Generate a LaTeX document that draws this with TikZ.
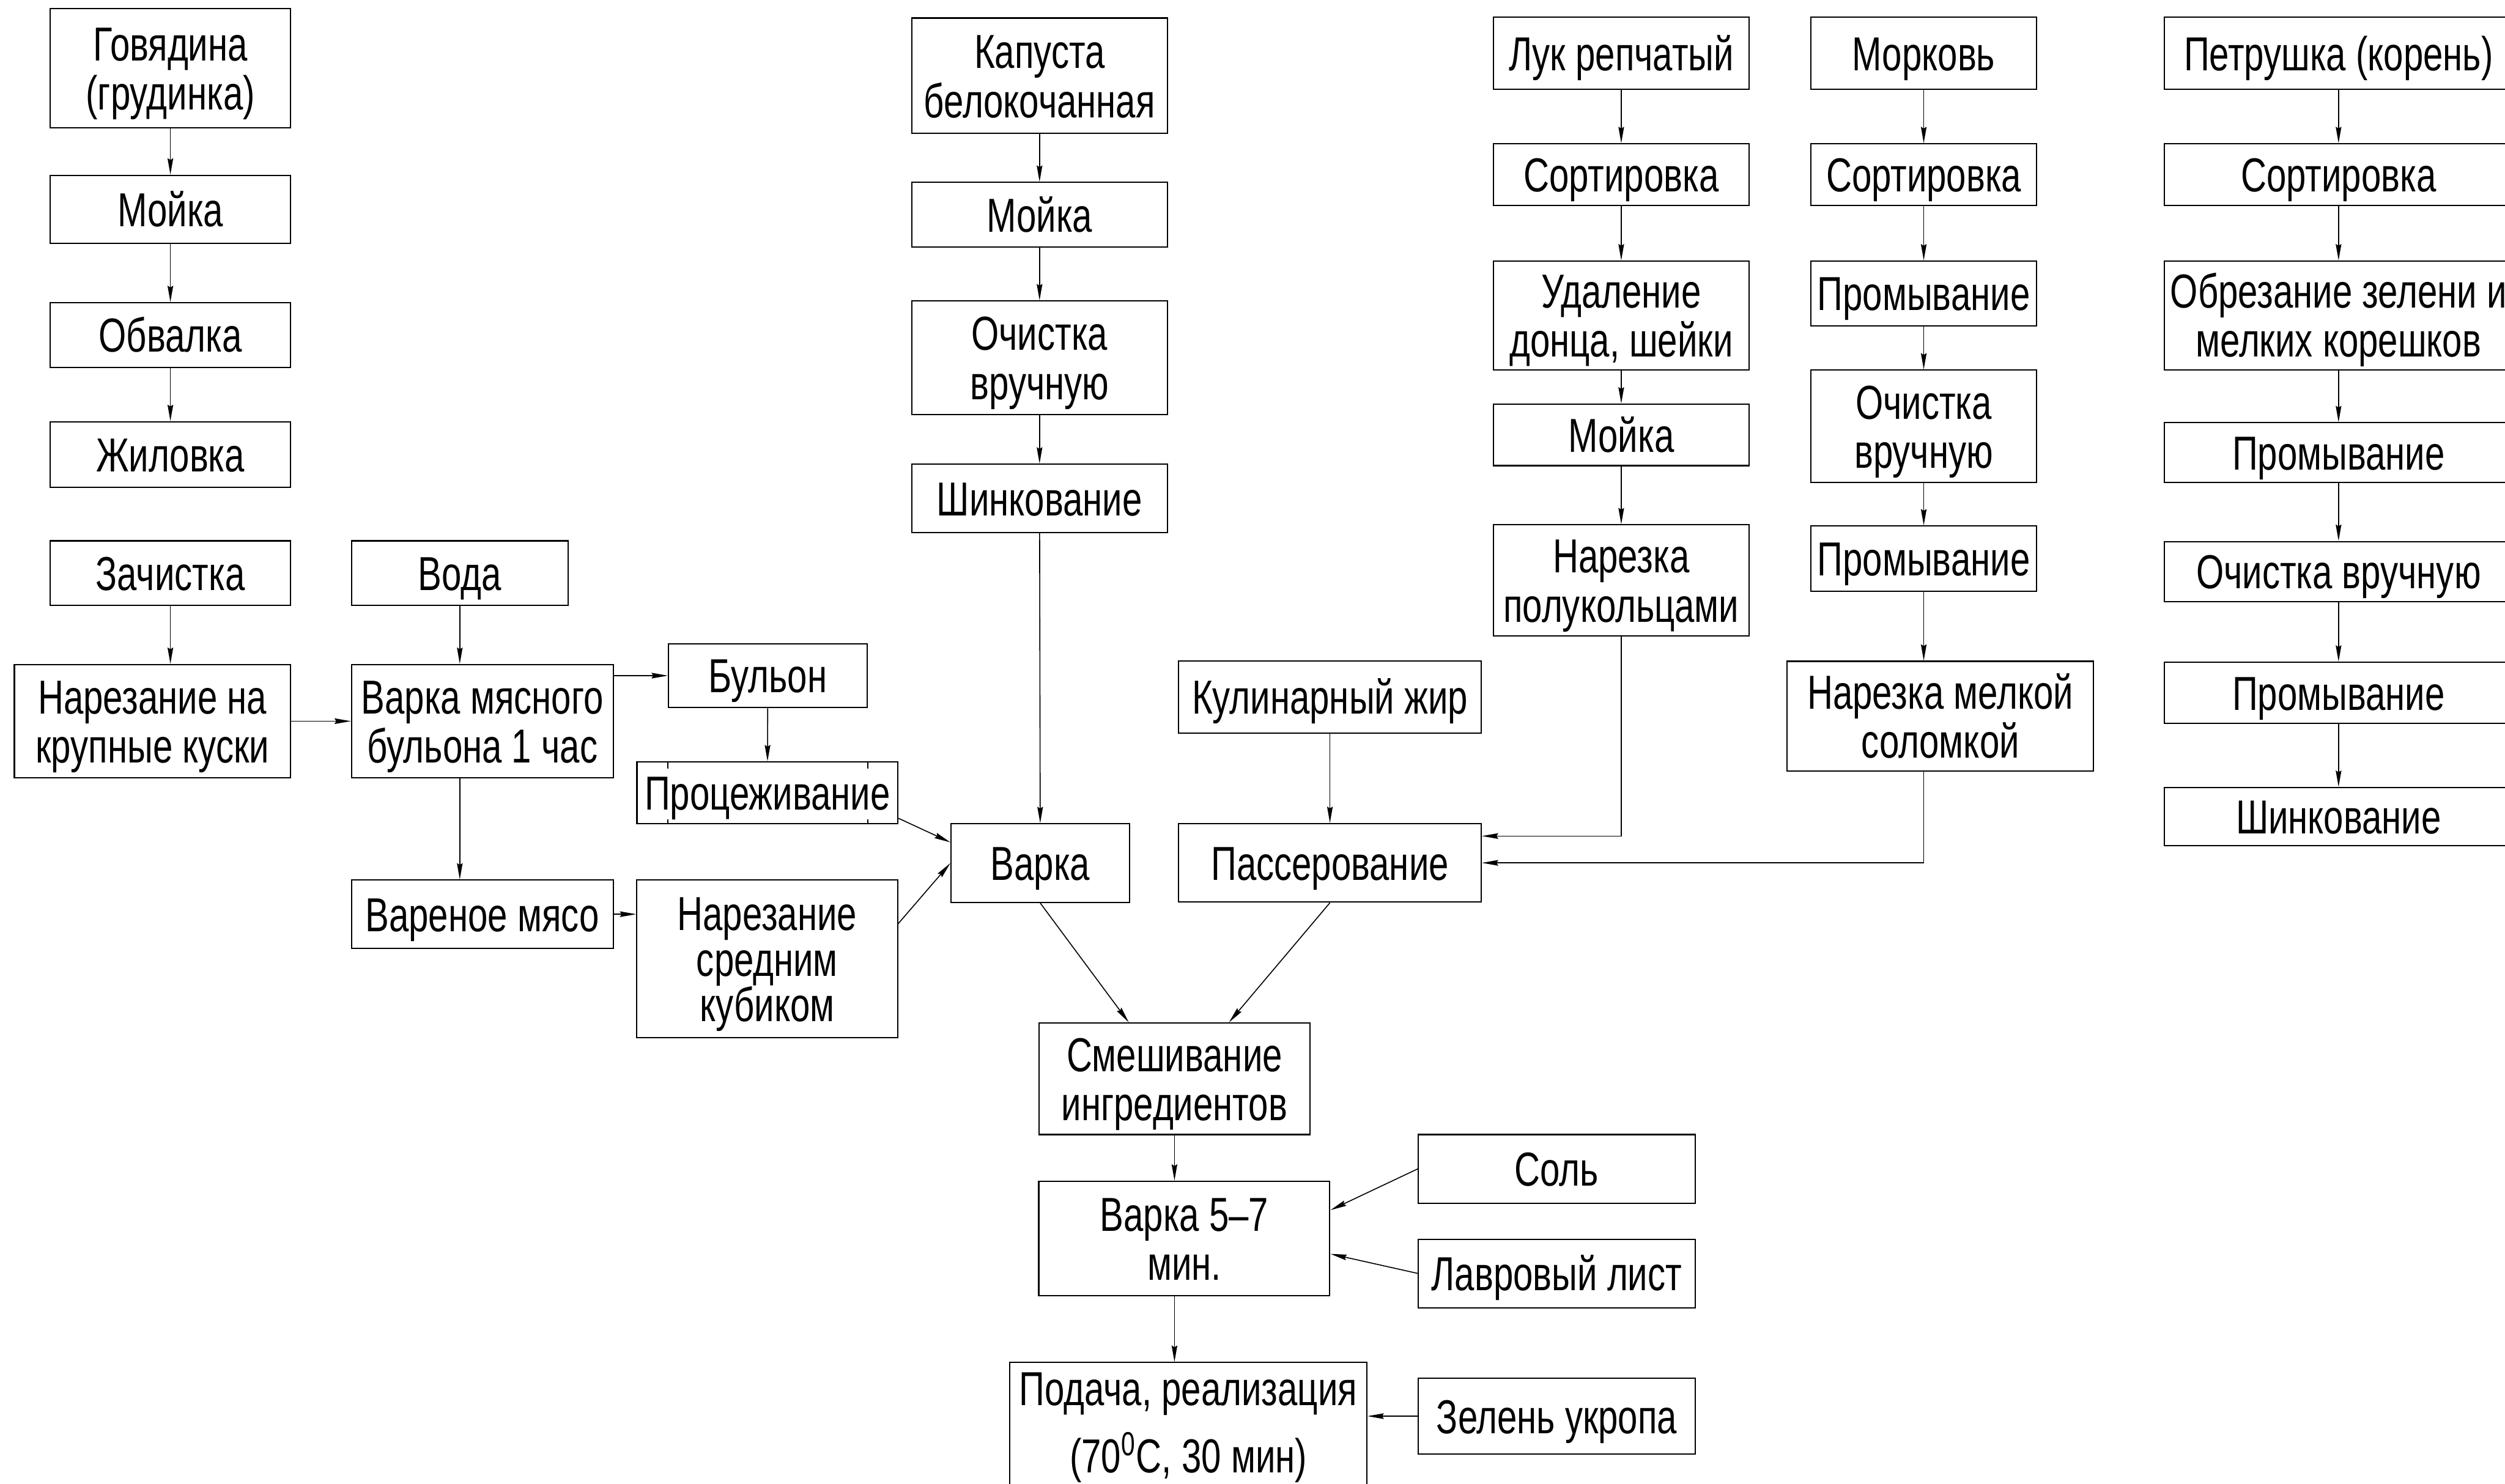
\documentclass[tikz,border=0pt]{standalone}
\usepackage{fontspec}
\setmainfont{Liberation Sans}[FakeStretch=0.745]
\usepackage{tikz}
\usetikzlibrary{arrows.meta}

\newcommand{\pxu}{0.02cm}

\tikzset{
	blk/.style = {draw, line width=0.45pt, inner sep=0pt, align=center,
		font=\fontsize{17}{17.5}\selectfont, text height=12.2pt, text depth=0pt},
	blk2/.style = {blk, text height=29.7pt},
	blk3/.style = {blk, font=\fontsize{17}{16.2}\selectfont, text height=44.6pt},
	wh/.style 2 args = {minimum width=#1*\pxu, minimum height=#2*\pxu},
	flow/.style = {-{Stealth[length=5.8pt, width=2pt, inset=0.6pt]}, line width=0.35pt}
}

\begin{document}
\begin{tikzpicture} [x=\pxu, y=-\pxu]
		\useasboundingbox (0,0) rectangle (1568,929);

		% Beef column
		\node (g1) [blk2, wh={150.3}{74.8}] at (106.65,42.6) {Говядина\\(грудинка)};
		\node (g2) [blk, wh={150.3}{42.7}] at (106.65,131.05) {Мойка};
		\node (g3) [blk, wh={150.3}{40.5}] at (106.65,209.75) {Обвалка};
		\node (g4) [blk, wh={150.3}{41}] at (106.65,284.5) {Жиловка};
		\node (g5) [blk, wh={150.3}{40.4}] at (106.65,358.8) {Зачистка};
		\node (g6) [blk2, wh={172.8}{71}] at (95.4,451.5) {Нарезание на\\крупные куски};

		% Broth
		\node (w1) [blk, wh={135.6}{40.4}] at (287.8,358.8) {Вода};
		\node (b1) [blk2, wh={163.8}{71}] at (301.9,451.5) {Варка мясного\\бульона 1 час};
		\node (b2) [blk, wh={163.8}{42.7}] at (301.9,572.35) {Вареное мясо};
		\node (b3) [blk, wh={124.4}{40}] at (480.6,423) {Бульон};
		\node (b4) [blk, wh={163.3}{38.7}] at (480.35,496.35) {Процеживание};
		\node (b5) [blk3, wh={163.2}{98.6}] at (480.2,600.3) {Нарезание\\средним\\кубиком};
		\draw [line width=0.3pt] (b3.south west |- b4.north) -- ++(0,4.5)
			(b3.south east |- b4.north) -- ++(0,4.5)
			(b3.south west |- b4.south) -- ++(0,-3.2)
			(b3.south east |- b4.south) -- ++(0,-3.2);

		% Cabbage column and main line
		\node (k1) [blk2, wh={160}{72.3}] at (650.7,47.45) {Капуста\\белокочанная};
		\node (k2) [blk, wh={160}{40.5}] at (650.7,134.45) {Мойка};
		\node (k3) [blk2, wh={160}{71.1}] at (650.7,223.95) {Очистка\\вручную};
		\node (k4) [blk, wh={160}{42.9}] at (650.7,312.05) {Шинкование};
		\node (c1) [blk, wh={111.7}{49.3}] at (651.15,540.35) {Варка};
		\node (c2) [blk2, wh={169.7}{69.8}] at (735.15,675.4) {Смешивание\\ингредиентов};
		\node (c3) [blk2, wh={182.2}{71.8}] at (741.3,775.4) {Варка 5–7\\мин.};
		\node (c4) [blk, text height=34.7pt, wh={223.6}{77.4}] at (743.8,891.7)
			{Подача, реализация\\[5pt](70\textsuperscript{0}С, 30 мин)};

		% Sauteing
		\node (f1) [blk, wh={189.5}{45.2}] at (832.45,436.4) {Кулинарный жир};
		\node (f2) [blk, wh={189.5}{49.2}] at (832.45,540.2) {Пассерование};

		% Onion column
		\node (l1) [blk, wh={160.2}{44.9}] at (1014.8,33.35) {Лук репчатый};
		\node (l2) [blk, wh={160.2}{38.6}] at (1014.8,109.3) {Сортировка};
		\node (l3) [blk2, wh={160.2}{68.1}] at (1014.8,197.45) {Удаление\\донца, шейки};
		\node (l4) [blk, wh={160.2}{38.5}] at (1014.8,272.25) {Мойка};
		\node (l5) [blk2, wh={160.2}{69.4}] at (1014.8,363.3) {Нарезка\\полукольцами};

		% Carrot column
		\node (m1) [blk, wh={141.5}{44.9}] at (1204.15,33.35) {Морковь};
		\node (m2) [blk, wh={141.5}{38.6}] at (1204.15,109.3) {Сортировка};
		\node (m3) [blk, wh={141.5}{40.6}] at (1204.15,183.7) {Промывание};
		\node (m4) [blk2, wh={141.5}{70.5}] at (1204.15,266.95) {Очистка\\вручную};
		\node (m5) [blk, wh={141.5}{41}] at (1204.15,349.8) {Промывание};
		\node (m6) [blk2, wh={192}{68.8}] at (1214.5,448.4) {Нарезка мелкой\\соломкой};

		% Parsley column
		\node (p1) [blk, wh={218.2}{44.9}] at (1463.8,33.35) {Петрушка (корень)};
		\node (p2) [blk, wh={218.2}{38.6}] at (1463.8,109.3) {Сортировка};
		\node (p3) [blk2, wh={218.2}{68.1}] at (1463.8,197.45) {Обрезание зелени и\\мелких корешков};
		\node (p4) [blk, wh={218.2}{37.5}] at (1463.8,283.45) {Промывание};
		\node (p5) [blk, wh={218.2}{37.8}] at (1463.8,357.9) {Очистка вручную};
		\node (p6) [blk, wh={218.2}{38.4}] at (1463.8,433.8) {Промывание};
		\node (p7) [blk, wh={218.2}{36.4}] at (1463.8,511.2) {Шинкование};

		% Additions
		\node (s1) [blk, wh={173.1}{42.9}] at (974.45,731.75) {Соль};
		\node (s2) [blk, wh={173.1}{42.9}] at (974.45,797.25) {Лавровый лист};
		\node (s3) [blk, wh={173.1}{47.4}] at (974.45,886.6) {Зелень укропа};

		% Draw Arrows/Connections
		\path [flow]
		% beef
		(g1) edge (g2)
		(g2) edge (g3)
		(g3) edge (g4)
		(g5.south) edge (g5.south |- g6.north)
		(g6) edge (b1)
		% broth
		(w1.south) edge (w1.south |- b1.north)
		(b1.south -| w1.south) edge (w1.south |- b2.north)
		(b1.east |- b3.west) edge (b3.west)
		(b3) edge (b4)
		(b2.east) edge (b2.east -| b5.west)
		(b4.-11) edge (c1.167)
		(b5.15) edge (c1.west)
		% cabbage
		(k1) edge (k2)
		(k2) edge (k3)
		(k3) edge (k4)
		(k4) edge (c1)
		(c1.south) edge (c2.129)
		(f1) edge (f2)
		(f2.south) edge (c2.46)
		% onion
		(l1) edge (l2)
		(l2) edge (l3)
		(l3) edge (l4)
		(l4) edge (l5)
		% carrot
		(m1) edge (m2)
		(m2) edge (m3)
		(m3) edge (m4)
		(m4) edge (m5)
		(m5.south) edge (m5.south |- m6.north)
		% parsley
		(p1) edge (p2)
		(p2) edge (p3)
		(p3) edge (p4)
		(p4) edge (p5)
		(p5) edge (p6)
		(p6) edge (p7)
		% final stages
		(c2.south) edge (c2.south |- c3.north)
		(c3.south -| c2.south) edge (c2.south |- c4.north)
		(s1.west) edge (c3.11)
		(s2.west) edge (c3.-6)
		(s3.west) edge (s3.west -| c4.east);

		\draw [flow] (l5.south) |- (f2.10);
		\draw [flow] (m6.south -| m5.south) |- (f2.east);
	\end{tikzpicture}
\end{document}
